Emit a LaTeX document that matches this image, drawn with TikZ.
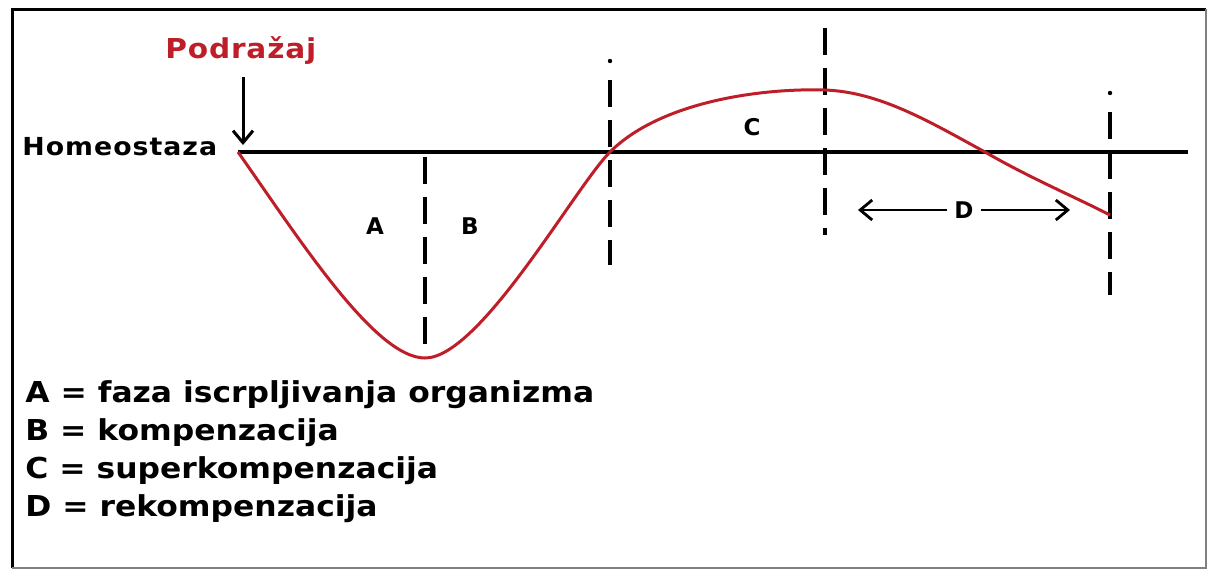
\documentclass[tikz,border=0pt]{standalone}
\usepackage{fontspec}
\setmainfont{DejaVu Sans}
\newfontfamily\weitA[FakeStretch=1.09]{DejaVu Sans}
\newfontfamily\weitB[FakeStretch=1.08,LetterSpace=4]{DejaVu Sans}
\newfontfamily\weitC[FakeStretch=1.08,LetterSpace=3]{DejaVu Sans}
\usetikzlibrary{arrows.meta}
\definecolor{kurve}{RGB}{190,30,40}
\begin{document}
\begin{tikzpicture}[x=0.5pt,y=-0.5pt,>={Straight Barb[length=6pt,width=10pt]}]
\useasboundingbox (0,0) rectangle (1209,570);
% Rahmen
\draw[black,line width=1.5pt] (12,568) -- (12,9) -- (1206,9);
\draw[black!50,line width=1pt] (1206,9) -- (1206,568) -- (12,568);
% Kennpunkte der Kurve
\coordinate (S) at (238,152);   % Podrazaj
\coordinate (M) at (425,358);   % Minimum
\coordinate (N) at (610,152);   % Nulldurchgang
\coordinate (P) at (825,90);    % Maximum
\coordinate (Q) at (985,152);   % zweiter Nulldurchgang
\coordinate (E) at (1110,215);  % Ende
\coordinate (R) at (1188,152);  % Ende der Achse
% Homeostase-Linie
\draw[line width=2pt] (S) -- (R);
% gestrichelte Trennlinien
\draw[line width=2pt,dash pattern=on 13.5pt off 6.5pt] (425,157) -- (M);
\draw[line width=2pt,dash pattern=on 13.5pt off 6.5pt] (610,80) -- (610,265);
\draw[line width=2pt,dash pattern=on 13.5pt off 6.5pt] (825,28) -- (825,235);
\draw[line width=2pt,dash pattern=on 13.5pt off 6.5pt] (1110,112) -- (1110,295);
\fill (610,61) circle (1.1pt);
\fill (1110,93) circle (1.1pt);
% Kurve (kraeftig rot)
\draw[kurve,line width=1.5pt]
  (S) .. controls (300,240) and (375,358) .. (M)
      .. controls (480,358) and (575,187) .. (N)
      .. controls (660,102) and (760,88) .. (P)
      .. controls (880,92) and (930,122) .. (Q)
      .. controls (1030,178) and (1075,197) .. (E);
% Beschriftungen
\node[font=\weitB\bfseries\fontsize{12.4}{14}\selectfont,anchor=west,inner sep=0pt] (hom) at (22,147) {Homeostaza};
\node[font=\weitC\bfseries\fontsize{13.7}{16}\selectfont,text=kurve,anchor=west,inner sep=0pt] (pod) at (165,50) {Podražaj};
\coordinate (pfeil) at (243,77);
\draw[->,line width=1.5pt] (pfeil) -- (243,145);
\node[font=\bfseries\fontsize{11.5}{13}\selectfont] (a) at (375,226) {A};
\node[font=\bfseries\fontsize{11.5}{13}\selectfont] (b) at (470,226) {B};
\node[font=\bfseries\fontsize{11.5}{13}\selectfont] (c) at (752,127) {C};
\node[font=\bfseries\fontsize{11.5}{13}\selectfont] (d) at (964,210) {D};
\coordinate (dl) at (858,210);
\coordinate (dr) at (1070,210);
\draw[->,line width=1.4pt] (d) -- (dl);
\draw[->,line width=1.4pt] (d) -- (dr);
% Legende
\node[font=\weitA\bfseries\fontsize{14.4}{19}\selectfont,anchor=north west,align=left,inner sep=0pt] (leg) at (25,380)
  {A = faza iscrpljivanja organizma\\
   B = kompenzacija\\
   C = superkompenzacija\\
   D = rekompenzacija};
\end{tikzpicture}
\end{document}
